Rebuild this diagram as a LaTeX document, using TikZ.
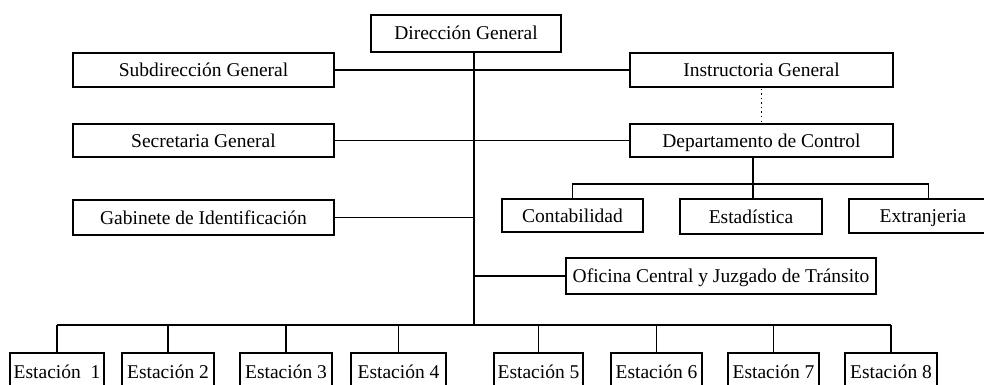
\documentclass[tikz,border=0pt]{standalone}
\usepackage{fontspec}
\setmainfont{Liberation Serif}
\tikzset{
  orgbox/.style={draw, line width=1.1pt, inner sep=0pt, outer sep=0pt,
    text height=13pt, text depth=0pt, font=\fontsize{19.5}{22}\selectfont},
  conn/.style={line width=1.1pt},
  dotconn/.style={line width=1.2pt, dash pattern=on 1.5pt off 3pt}
}
% name, x1, x2, y1, y2, text
\newcommand\orgnode[6]{%
  \node[orgbox, minimum width={#3pt-#2pt}, minimum height={#5pt-#4pt}]
    (#1) at ({(#2+#3)/2},{(#4+#5)/2}) {#6};}
\begin{document}
\begin{tikzpicture}[x=1pt,y=-1pt]
\useasboundingbox (0,0) rectangle (984,385);
\clip (0,0) rectangle (984,385);
\orgnode{dir}{371}{561}{15}{52}{Dirección General}
\orgnode{sub}{73}{334}{53}{87}{Subdirección General}
\orgnode{sec}{73}{334}{124}{157}{Secretaria General}
\orgnode{gab}{73}{334}{200}{235}{Gabinete de Identificación}
\orgnode{ins}{630}{893}{53}{87}{Instructoria General}
\orgnode{dep}{630}{893}{124}{157}{Departamento de Control}
\orgnode{con}{502}{643}{199}{232}{Contabilidad}
\orgnode{est}{680}{822}{199}{234}{Estadística}
\orgnode{ext}{849}{997}{199}{233}{Extranjeria}
\orgnode{ofi}{566}{876}{258}{294}{Oficina Central y Juzgado de Tránsito}
\orgnode{e1}{10}{104}{353}{390}{Estación\ \ 1}
\orgnode{e2}{122}{214}{353}{390}{Estación 2}
\orgnode{e3}{240}{332}{353}{390}{Estación 3}
\orgnode{e4}{351}{446}{353}{390}{Estación 4}
\orgnode{e5}{494}{583}{353}{390}{Estación 5}
\orgnode{e6}{611}{702}{353}{390}{Estación 6}
\orgnode{e7}{728}{819}{353}{390}{Estación 7}
\orgnode{e8}{845}{937}{353}{390}{Estación 8}
% named junction coordinates
\coordinate (trunktop) at (474,52);
\coordinate (trunkbot) at (474,325);
\coordinate (busL) at (57,325);
\coordinate (busR) at (891,325);
\coordinate (dbus) at (753,184);
\coordinate (cbus) at (572.5,184);
\coordinate (xbus) at (928.5,184);
% trunk
\draw[conn] (trunktop) -- (trunkbot);
% side branches
\draw[conn] (sub.east) -- (ins.west);
\draw[conn] (sec.east) -- (dep.west);
\draw[conn] (gab.east) -- (gab.east -| trunktop);
\draw[conn] (ofi.west -| trunktop) -- (ofi.west);
% dotted link
\draw[dotconn] ([yshift=-2pt]ins.south) -- ([yshift=3pt]dep.north);
% control department sub-units
\draw[conn] (dbus |- dep.south) -- (dbus);
\draw[conn] (cbus |- con.north) -- (cbus) -- (xbus) -- (xbus |- ext.north);
\draw[conn] (dbus) -- (dbus |- est.north);
% stations bus
\draw[conn] (busL) -- (busR);
\foreach \s in {e1,e2,e3,e4,e5,e6,e7,e8}{
  \draw[conn] (\s.north |- busL) -- (\s.north);
}
\end{tikzpicture}
\end{document}
